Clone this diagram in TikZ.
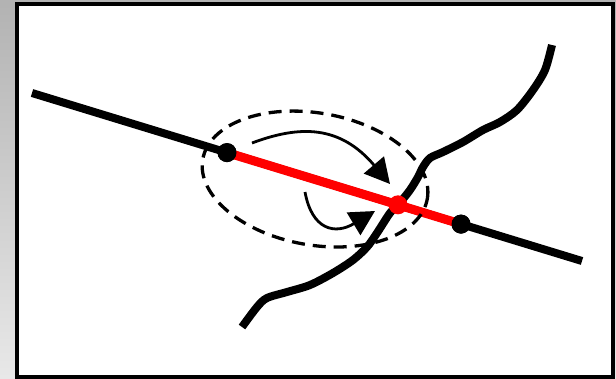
\documentclass[tikz,border=0pt]{standalone}
\usetikzlibrary{arrows.meta}
\begin{document}
\begin{tikzpicture}[x=1pt,y=-1pt,
  road/.style={line width=8pt,black},
  redseg/.style={line width=9pt,red},
  dot/.style={circle,fill=black,minimum size=19pt,inner sep=0pt},
  reddot/.style={circle,fill=red,minimum size=19pt,inner sep=0pt},
  zone/.style={line width=3.3pt,dash pattern=on 13pt off 8pt},
  flow/.style={line width=2.8pt,-{Triangle[length=25pt,width=26pt]}},
  frame/.style={line width=4pt,fill=white}]
\useasboundingbox (0,0) rectangle (616,378);
\shade[top color=black!30,bottom color=black!9] (0,0) rectangle (616,378);
\draw[frame] (17,4) rectangle (613,377);
% road
\coordinate (A) at (32,93);
\coordinate (B) at (582,261);
\draw[road] (A) -- (B);
% river
\draw[road,line join=round] plot[smooth,tension=0.5] coordinates {
 (552,45) (545,70) (533,90) (517,110) (500,122) (483,130) (463,142)
 (443,152) (430,158) (423,167) (418,177) (410,190) (398,205) (390,213)
 (377,233) (367,247) (353,260) (333,273) (310,285) (287,292) (267,298)
 (257,307) (242,327)};
% red segment and points
\node[dot] (P) at (227,152.6) {};
\node[dot] (Q) at (461,224.1) {};
\draw[redseg] (P.center) -- (Q.center);
\node[dot] at (P) {};
\node[dot] at (Q) {};
\node[reddot] (R) at (398,204.8) {};
% zone ellipse
\coordinate (C) at (315,179);
\draw[zone,rotate around={-10:(C)}] (C) ellipse [x radius=114pt, y radius=66pt];
% flow arrows
\coordinate (s1) at (252,143);
\coordinate (t1) at (390,184);
\draw[flow] (s1) .. controls (300,125) and (340,125) .. (t1);
\coordinate (s2) at (305,192);
\coordinate (t2) at (375,211);
\draw[flow] (s2) .. controls (312,230) and (335,235) .. (t2);
\end{tikzpicture}
\end{document}
